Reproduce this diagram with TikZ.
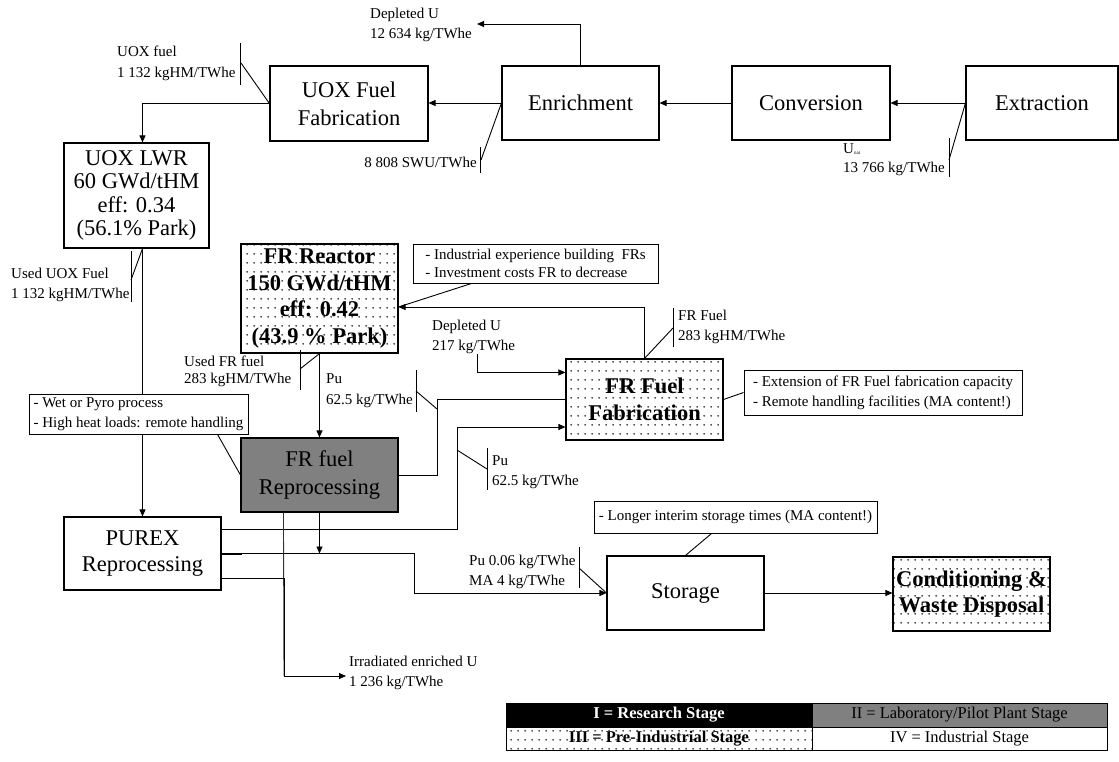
\documentclass[tikz,border=0pt]{standalone}
\usepackage{fontspec}
\setmainfont{Liberation Serif}
\usetikzlibrary{arrows.meta,calc,patterns.meta}

\tikzdeclarepattern{
  name=sparsedots,
  type=uncolored,
  bottom left={(0pt,0pt)},
  top right={(6.6pt,9pt)},
  tile size={(6.6pt,9pt)},
  code={\fill (3.3pt,4.5pt) circle (0.95pt);}
}

\definecolor{midgray}{gray}{0.5}
\newcommand\mainfs{\fontsize{22.5}{26}\selectfont}
\newcommand\smallfs{\fontsize{15}{20}\selectfont}
\newcommand\legfs{\fontsize{16.5}{20}\selectfont}

\begin{document}
\begin{tikzpicture}[x=1pt,y=-1pt,
  box/.style={draw, line width=1.1pt, inner sep=0pt, align=center, font=\mainfs},
  dotbox/.style={box, pattern=sparsedots, pattern color=black!90},
  note/.style={draw, fill=white, line width=0.9pt, inner sep=0pt, align=left, font=\smallfs},
  lbl/.style={inner sep=0pt, align=left, font=\smallfs},
  arr/.style={-{Triangle[length=7pt,width=6pt]}, line width=0.9pt},
  ln/.style={line width=0.9pt},
  leg/.style={draw, line width=0.8pt, inner sep=0pt, font=\legfs},
]
\fill[white] (0,0) rectangle (1119,762);
\useasboundingbox (0,0) rectangle (1119,762);

% ---------- main boxes ----------
\node[box, minimum width=158pt, minimum height=75pt, font=\fontsize{22.5}{28}\selectfont] (uoxfab) at (349,103.5) {UOX Fuel\\Fabrication};
\node[box, minimum width=157pt, minimum height=74pt] (enrich) at (580.5,103) {Enrichment};
\node[box, minimum width=158pt, minimum height=74pt] (conv) at (811,103) {Conversion};
\node[box, minimum width=152pt, minimum height=74pt] (extr) at (1042,103) {Extraction};
\node[box, minimum width=145pt, minimum height=105pt, font=\fontsize{22.5}{23.5}\selectfont] (uoxlwr) at (136.5,195.5) {UOX LWR\\60 GWd/tHM\\eff: 0.34\\(56.1\% Park)};
\node[dotbox, minimum width=157pt, minimum height=109pt, font=\fontsize{22.5}{26.5}\selectfont\bfseries] (frreac) at (319.5,298.5) {FR Reactor\\150 GWd/tHM\\eff: 0.42\\(43.9 \% Park)};
\node[dotbox, minimum width=157pt, minimum height=81pt, font=\fontsize{22.5}{27}\selectfont\bfseries] (frfab) at (644.5,399.5) {FR Fuel\\Fabrication};
\node[box, fill=midgray, minimum width=157pt, minimum height=74pt, font=\fontsize{22.5}{28}\selectfont] (frrep) at (319.5,475) {FR fuel\\Reprocessing};
\node[box, minimum width=157pt, minimum height=73pt, font=\fontsize{22.5}{26}\selectfont] (purex) at (142.5,553.5) {PUREX\\Reprocessing};
\node[box, minimum width=157pt, minimum height=74pt] (storage) at (685.5,593) {Storage};
\node[dotbox, minimum width=157pt, minimum height=74pt, font=\fontsize{22.5}{26}\selectfont\bfseries] (cond) at (971.5,594) {Conditioning \&\\Waste Disposal};

% ---------- top row connectors ----------
\coordinate (depend) at (477,24);
\draw[arr] (enrich.north) |- (depend);
\node[lbl, anchor=west] (ldep) at (370,24.5) {Depleted U\\12 634 kg/TWhe};

\draw[arr] (enrich.west) -- (uoxfab.east |- enrich.west);
\draw[arr] (conv.west) -- (enrich.east |- conv.west);
\draw[arr] (extr.west) -- (conv.east |- extr.west);

% UOX fuel callout
\node[lbl, anchor=west, font=\fontsize{15}{21}\selectfont] (luox) at (117,63.5) {UOX fuel\\1 132 kgHM/TWhe};
\coordinate (tuoxa) at (240,43); \coordinate (tuoxb) at (240,85); \coordinate (tuoxm) at (241,63);
\draw[ln] (tuoxa) -- (tuoxb);
\draw[ln] (tuoxm) -- (uoxfab.west);

% SWU callout
\node[lbl, anchor=east] (lswu) at (477,162) {8 808 SWU/TWhe};
\coordinate (tswua) at (480,147); \coordinate (tswub) at (480,173); \coordinate (tswum) at (481,160);
\draw[ln] (tswua) -- (tswub);
\draw[ln] (tswum) -- (enrich.west);

% U nat callout
\node[lbl, anchor=west, font=\fontsize{15}{19}\selectfont] (lunat) at (843,159.5) {U\raisebox{-1.5pt}{\fontsize{5}{5}\selectfont nat}\\13 766 kg/TWhe};
\coordinate (tunata) at (949,138); \coordinate (tunatb) at (949,177); \coordinate (tunatm) at (949,160);
\draw[ln] (tunata) -- (tunatb);
\draw[ln] (tunatm) -- (extr.west);

% UOX fab -> UOX LWR
\coordinate (lwrin) at ($(uoxlwr.north)+(6,0)$);
\draw[arr] (uoxfab.west) -| (lwrin);

% UOX LWR -> PUREX (behind the note)
\coordinate (lwrout) at (uoxlwr.south -| purex.north);
\draw[arr] (lwrout) -- (purex.north);
\node[lbl, anchor=west] (luuox) at (11,285) {Used UOX Fuel\\1 132 kgHM/TWhe};
\coordinate (tuuoxa) at (131,251); \coordinate (tuuoxb) at (131,302); \coordinate (tuuoxm) at (131,280);
\draw[ln] (tuuoxa) -- (tuuoxb);
\draw[ln] (tuuoxm) -- (lwrout);

% ---------- FR loop ----------
\draw[arr] (frreac.south) -- (frrep.north);
\node[lbl, anchor=west, font=\fontsize{15}{17}\selectfont] (lufr) at (184,371.5) {Used FR fuel\\283 kgHM/TWhe};
\coordinate (tufra) at (300,350); \coordinate (tufrb) at (300,390); \coordinate (tufrm) at (300,369);
\draw[ln] (tufra) -- (tufrb);
\draw[ln] (tufrm) -- (frreac.south);

% FR rep -> FR fab
\coordinate (jone) at (437,399.5);
\draw[ln] (frrep.east) -| (jone) -- (frfab.west);
\node[lbl, anchor=west, font=\fontsize{15}{21}\selectfont] (lpua) at (326,390.5) {Pu\\62.5 kg/TWhe};
\coordinate (tpuaa) at (416,370); \coordinate (tpuab) at (416,412); \coordinate (tpuam) at (416,391); \coordinate (tpuae) at (437,409);
\draw[ln] (tpuaa) -- (tpuab);
\draw[ln] (tpuam) -- (tpuae);

% FR fab -> FR reactor
\coordinate (frin) at ($(frreac.east)+(0,8.5)$);
\draw[arr] (frfab.north) |- (frin);
\node[note, minimum width=245pt, minimum height=39pt, font=\fontsize{15}{18}\selectfont] (indnote) at (535.5,263.5) {- Industrial experience building~ FRs\\- Investment costs FR to decrease};
\coordinate (indfoot) at ($(indnote.south west)+(59,0)$);
\draw[ln] (indfoot) -- (frin);

\node[lbl, anchor=west] (lfrf) at (678,327) {FR Fuel\\283 kgHM/TWhe};
\coordinate (tfrfa) at (673,308); \coordinate (tfrfb) at (673,347); \coordinate (tfrfm) at (673,328);
\draw[ln] (tfrfa) -- (tfrfb);
\draw[ln] (tfrfm) -- (frfab.north);

% Depleted U 217
\node[lbl, anchor=west] (ldepb) at (432,337) {Depleted U\\217 kg/TWhe};
\coordinate (depstart) at (477,354);
\coordinate (depin) at ($(frfab.north west)+(0,14)$);
\draw[arr] (depstart) |- (depin);

% note extension
\node[note, minimum width=278pt, minimum height=45pt] (extnote) at (883,392.5) {- Extension of FR Fuel fabrication capacity\\- Remote handling facilities (MA content!)};
\draw[ln] (frfab.east) -- (extnote.west);

% ---------- PUREX outputs ----------
\coordinate (jtwo) at (457,427);
\draw[arr] ($(purex.east)+(0,-24.5)$) -| (jtwo) -- (frfab.west |- jtwo);
\node[lbl, anchor=west] (lpub) at (492,472) {Pu\\62.5 kg/TWhe};
\coordinate (tpuba) at (487,448); \coordinate (tpubb) at (487,490); \coordinate (tpubm) at (487,469); \coordinate (tpube) at (457,450);
\draw[ln] (tpuba) -- (tpubb);
\draw[ln] (tpubm) -- (tpube);

\coordinate (jthree) at (414,593);
\draw[arr] (purex.east) -| (jthree) -- (storage.west);
\draw[line width=2pt] (purex.east) -- ++(20,0);
\draw[arr] (frrep.south) -- (frrep.south |- purex.east);

\node[lbl, anchor=west] (lpuma) at (469,572) {Pu 0.06 kg/TWhe\\MA 4 kg/TWhe};
\coordinate (tpumaa) at (579,547); \coordinate (tpumab) at (579,588); \coordinate (tpumam) at (579,568);
\draw[ln] (tpumaa) -- (tpumab);
\draw[ln] (tpumam) -- (storage.west);

\coordinate (jfour) at (284,676);
\coordinate (irrtip) at (346,676);
\coordinate (reptap) at ($(frrep.south west)+(43,0)$);
\draw[ln, black!80] (reptap) -- (jfour);
\draw[arr] ($(purex.east)+(0,24.5)$) -| (jfour) -- (irrtip);
\node[lbl, anchor=west] (lirr) at (349,673) {Irradiated enriched U\\1 236 kg/TWhe};

% storage note & output
\node[note, minimum width=283pt, minimum height=32pt] (stnote) at (735.5,517) {- Longer interim storage times (MA content!)};
\coordinate (stfoot) at ($(stnote.south west)+(118,0)$);
\draw[ln] (storage.north) -- (stfoot);
\draw[arr] (storage.east) -- (cond.west |- storage.east);

% wet / pyro note (covers vertical line)
\node[note, minimum width=219pt, minimum height=40pt] (wetnote) at (138.5,414) {- Wet or Pyro process\\- High heat loads: remote handling};
\coordinate (wetfoot) at ($(wetnote.south west)+(189,0)$);
\draw[ln] (wetfoot) -- (frrep.west);

% ---------- legend ----------
\node[leg, fill=black, text=white, font=\legfs\bfseries, minimum width=306pt, minimum height=24pt] (legone) at (659,715) {I = Research Stage};
\node[leg, fill=midgray, minimum width=295pt, minimum height=24pt] (legtwo) at (959.5,715) {II = Laboratory/Pilot Plant Stage};
\node[leg, pattern=sparsedots, pattern color=black!90, font=\legfs\bfseries, minimum width=306pt, minimum height=23pt] (legthree) at (659,738.5) {III = Pre-Industrial Stage};
\node[leg, minimum width=295pt, minimum height=23pt] (legfour) at (959.5,738.5) {IV = Industrial Stage};
\end{tikzpicture}
\end{document}
